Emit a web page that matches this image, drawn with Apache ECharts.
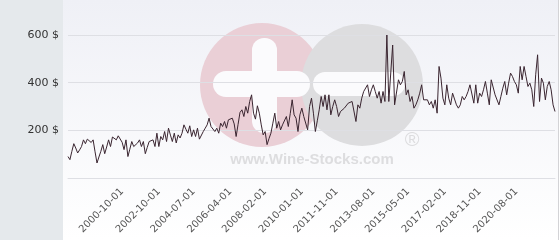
<!DOCTYPE html>
<html><head><meta charset="utf-8">
<script src="https://cdn.jsdelivr.net/npm/echarts@6/dist/echarts.min.js"></script>
<style>html,body{margin:0;padding:0;background:#fff}#c{width:560px;height:240px}</style>
</head><body><div id="c"></div>
<script>
// Price series (USD), one value per sale point
const prices1 = [90,77,112,144,126,105,118,132,160,144,163,168,149,160,110,63,88,112,140,102,
  130,160,132,172,166,160,177,181,150,119,160,90,121,153,132,137,147,160,132,153,
  102,128,153,147,160,132,188,132,174,160,195,153,209,180,153,188,147,181,168,188,223,205,188];
const prices2 = [219,174,202,174,209,163,160,195,209,223,251,216,223,195,209,188,230,216,237,209,
  244,237,251,227,174,225,275,286,258,300,272,321,349,272,247,303,272,223,181,195,
  140,165,188,230,272,209,237,202,223,216,258,216,270,328,265,251,195,265,293,258,
  251,202,300,335,272,195,240,286,342,300,349,286,349,265,300,328,300,258,279,272,
  293,300,314,307];
const prices3 = [321,314,237,307,293,335,363,370,391,342,370,391,363,335,363,314,363,321,
  600,321,321,558,307,307,412,391,405,447,349,370,321,342,293,307,328,356,391,328,
  321,328,307,321,293,328,272,468,419,335,307,391,335,307,356];
const prices4 = [349,307,293,307,342,328,342,363,391,398,314,391,314,356,342,370,405,356,307,412,
  412,349,356,307,342,377,405,349,398,440,426,405,391,356,468,412,468,426,384,398,
  370,300,433,517,321,419,398,328,384,405,370,307,279];
const prices = prices1.concat(prices2, prices3, prices4);

// Tick labels on the date axis and the sale index each one belongs to
const tickLabels = ['2000-10-01','2002-10-01','2004-07-01','2006-04-01','2008-02-01','2010-01-01',
  '2011-11-01','2013-08-01','2015-05-01','2017-02-01','2018-11-01','2020-08-01'];
const tickIndex = [28,47,65,84,102,121,139,158,176,195,213,232];
const yTicks = [0,200,400,600];

const categories = prices.map((_, i) => {
  const k = tickIndex.indexOf(i);
  return k >= 0 ? tickLabels[k] : '';
});

const chart = echarts.init(document.getElementById('c'), null, {renderer:'canvas'});
chart.setOption({
  animation: false,
  backgroundColor: '#ffffff',
  graphic: [
    {type:'rect', z:-20, silent:true, shape:{x:63,y:0,width:495,height:240},
      style:{fill:new echarts.graphic.LinearGradient(0,0,0,1,[{offset:0,color:'#eff0f6'},{offset:1,color:'#ffffff'}])}},
    {type:'rect', z:-20, silent:true, shape:{x:0,y:0,width:63,height:240}, style:{fill:'#e5e9ec'}},
    {type:'rect', z:-20, silent:true, shape:{x:558,y:0,width:1,height:240}, style:{fill:'#d3d3d6'}},
    {type:'circle', z:-15, silent:true, shape:{cx:262,cy:85,r:62}, style:{fill:'#eacfd6'}},
    {type:'circle', z:-14, silent:true, shape:{cx:362,cy:85,r:61}, style:{fill:'#dddddf'}},
    {type:'rect', z:-13, silent:true, shape:{x:252,y:38,width:25,height:95,r:12}, style:{fill:'#fbfbfd'}},
    {type:'rect', z:-13, silent:true, shape:{x:213,y:71,width:97,height:26,r:13}, style:{fill:'#fbfbfd'}},
    {type:'rect', z:-13, silent:true, shape:{x:313,y:72,width:92,height:24,r:12}, style:{fill:'#fbfbfd'}},
    {type:'text', z:-13, silent:true, style:{x:312,y:160,text:'www.Wine-Stocks.com',align:'center',verticalAlign:'middle',
      font:'bold 15px "Liberation Sans", Arial, sans-serif',fill:'#dddddf'}},
    {type:'text', z:-13, silent:true, style:{x:412,y:140,text:'®',align:'center',verticalAlign:'middle',
      font:'20px "Liberation Sans", Arial, sans-serif',fill:'#dcdcde'}}
  ],
  grid: {left:68, right:5, top:35, bottom:62, containLabel:false},
  xAxis: {
    type:'category', data:categories, boundaryGap:false,
    axisLine:{show:true, lineStyle:{color:'#dedfe4'}},
    axisTick:{show:false},
    splitLine:{show:false},
    axisLabel:{interval:(i, v) => v !== '', rotate:45, margin:12, color:'#555',
      fontSize:10, fontFamily:'DejaVu Sans'}
  },
  yAxis: {
    type:'value', min:yTicks[0], max:yTicks[yTicks.length-1], interval:yTicks[1]-yTicks[0],
    axisLine:{show:false}, axisTick:{show:false},
    splitLine:{lineStyle:{color:'#dedfe4', width:1}},
    axisLabel:{margin:9, color:'#333', fontSize:11, fontFamily:'DejaVu Sans',
      formatter:(v) => v === 0 ? '' : v + ' $'}
  },
  series: [{
    type:'line', data:prices, showSymbol:false, symbol:'none',
    lineStyle:{color:'#3a2530', width:1}, z:5
  }]
});
</script></body></html>
